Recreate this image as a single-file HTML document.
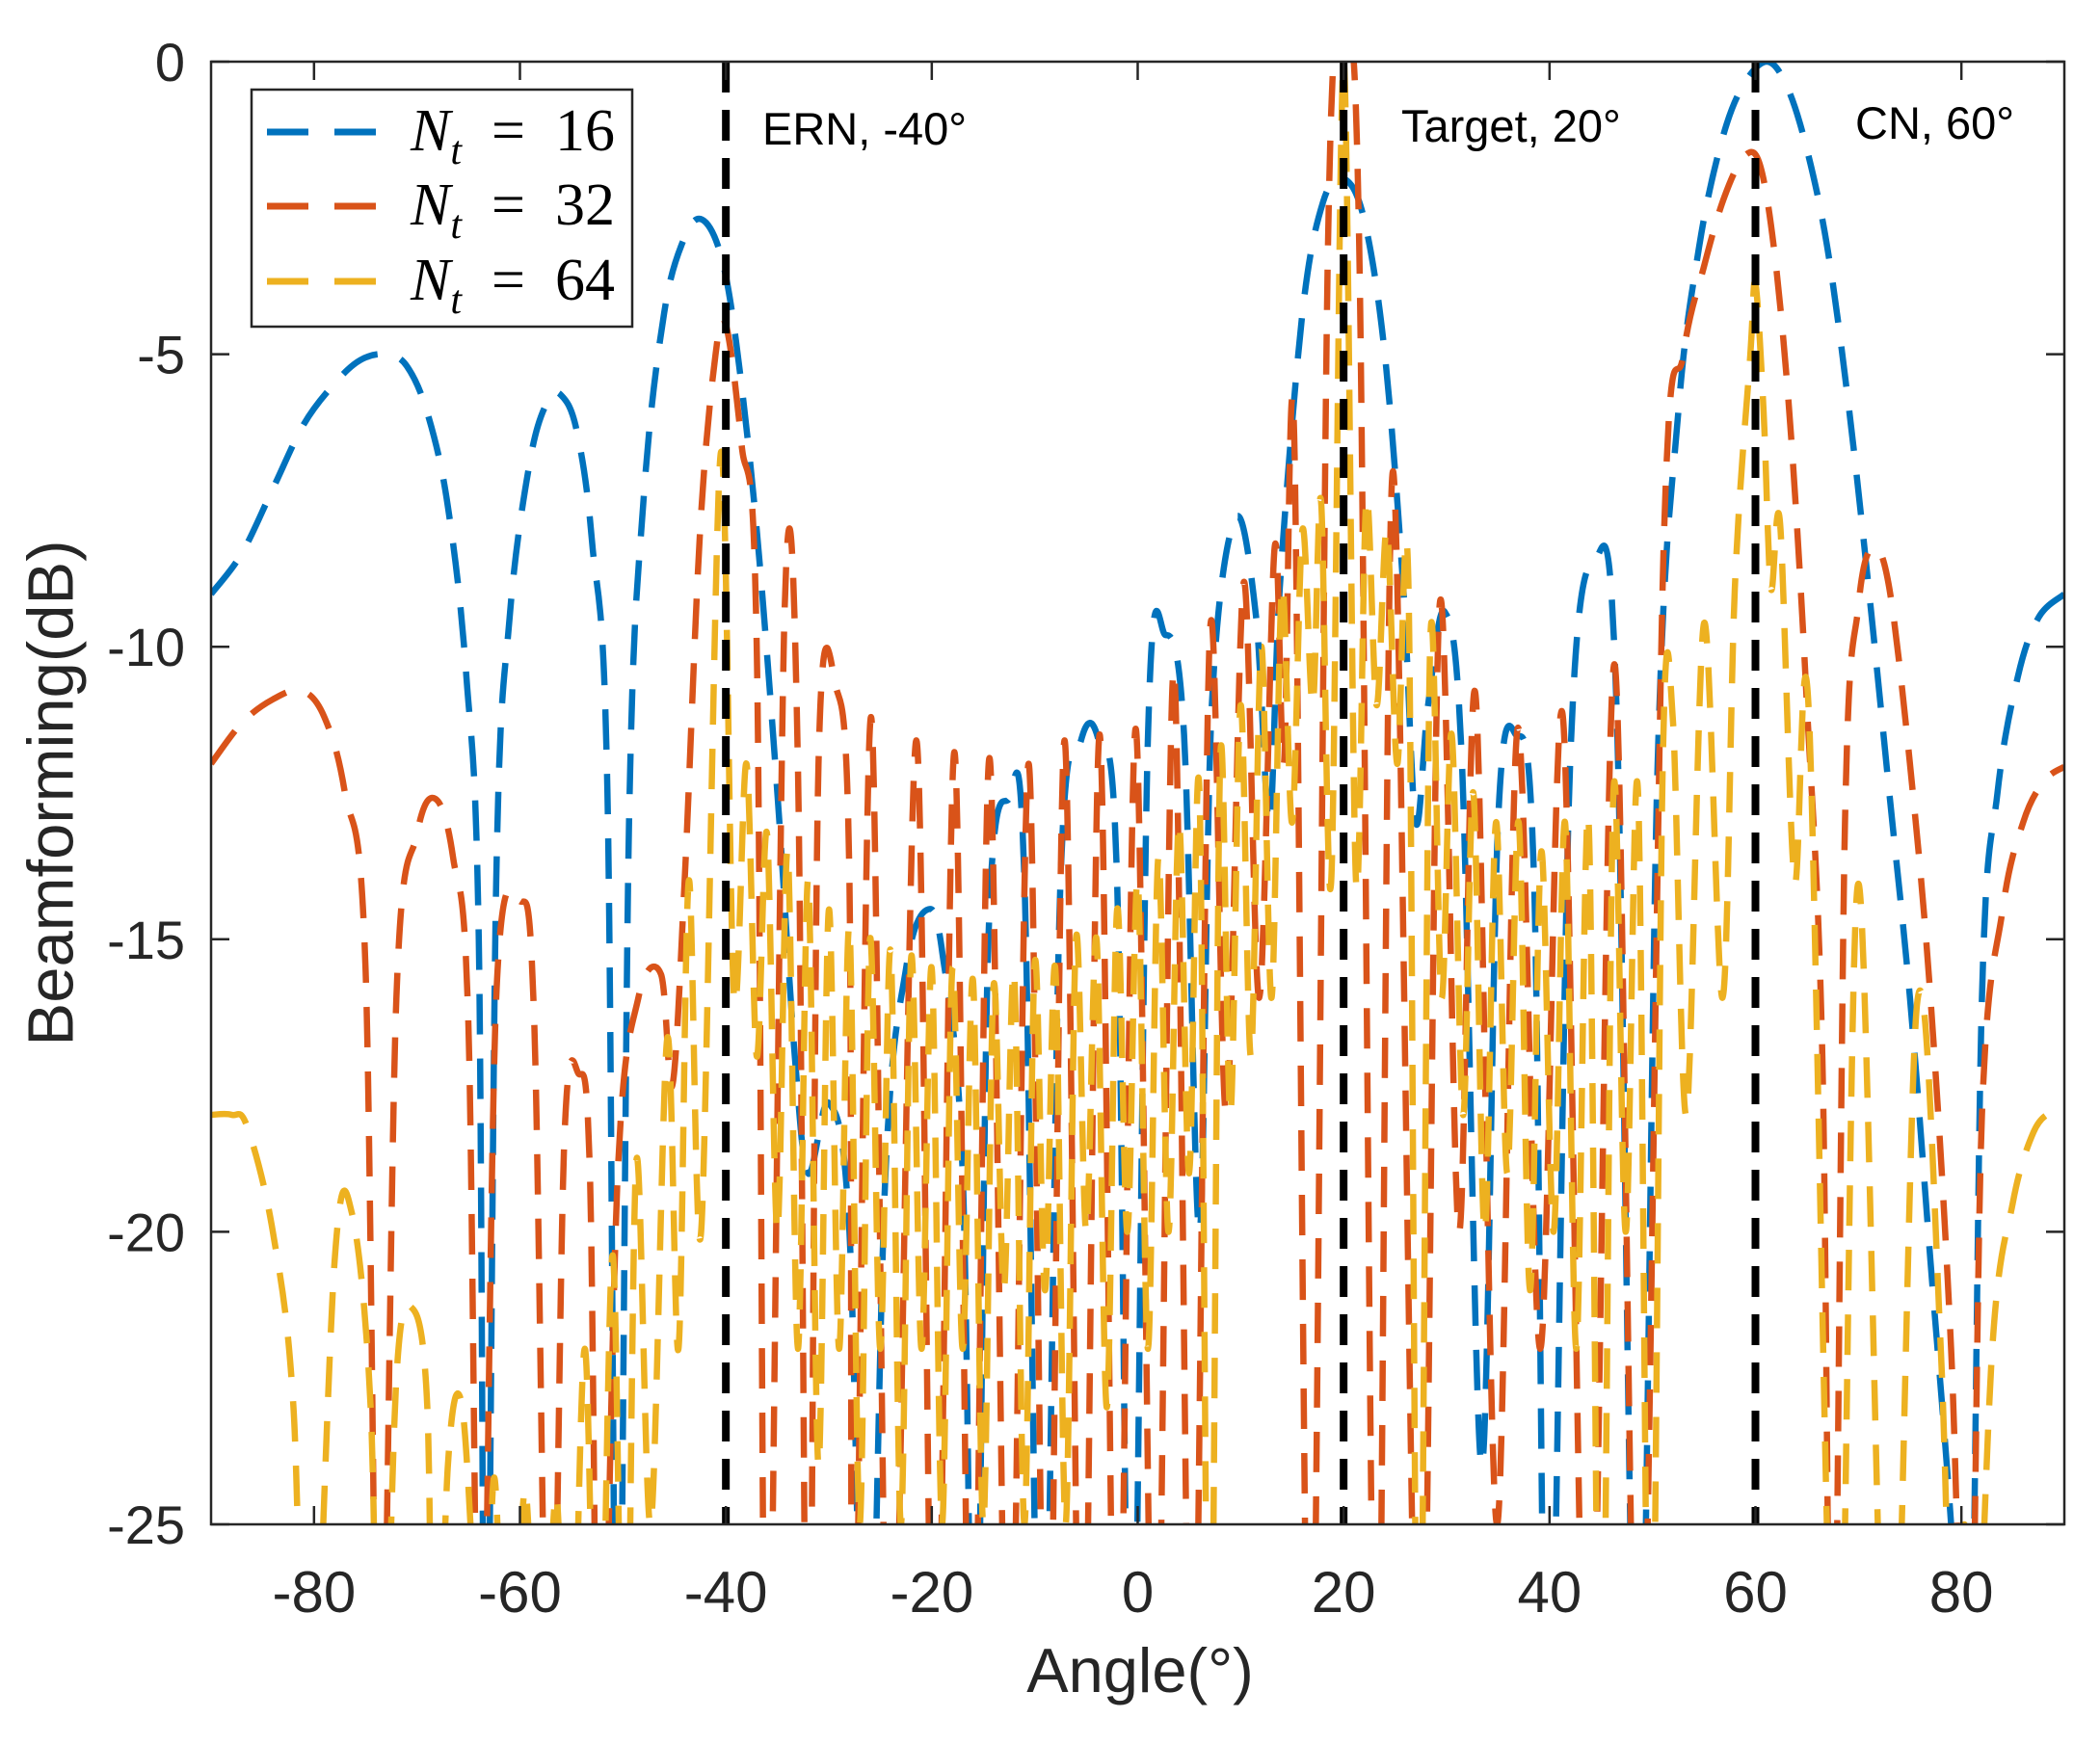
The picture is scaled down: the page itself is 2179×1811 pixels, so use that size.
<!DOCTYPE html>
<html><head><meta charset="utf-8"><style>
html,body{margin:0;padding:0;background:#fff;width:2179px;height:1811px;overflow:hidden;}
svg{display:block;}
</style></head><body>
<svg id="chart" width="2179" height="1811" viewBox="0 0 2179 1811" xmlns="http://www.w3.org/2000/svg">
<defs><clipPath id="plotclip"><rect x="219" y="64" width="1923" height="1518"/></clipPath></defs>
<rect x="0" y="0" width="2179" height="1811" fill="#fff"/>
<g id="series" clip-path="url(#plotclip)"></g>
<g id="markers" clip-path="url(#plotclip)"></g>
<rect x="219" y="64" width="1923" height="1518" fill="none" stroke="#262626" stroke-width="2.5"/>
<g id="ticks"></g>
<g id="labels" font-family="Liberation Sans, sans-serif" fill="#262626"></g>
<text x="58" y="823" transform="rotate(-90 58 823)" text-anchor="middle" dominant-baseline="middle" font-family="Liberation Sans, sans-serif" font-size="67" fill="#262626">Beamforming(dB)</text>
<text x="1183" y="1756" text-anchor="middle" font-family="Liberation Sans, sans-serif" font-size="65" fill="#262626">Angle(°)</text>
<text x="791" y="150" font-family="Liberation Sans, sans-serif" font-size="47" fill="#000">ERN, -40°</text>
<text x="1454" y="147" font-family="Liberation Sans, sans-serif" font-size="47" fill="#000">Target, 20°</text>
<text x="1925" y="144" font-family="Liberation Sans, sans-serif" font-size="47" fill="#000">CN, 60°</text>
<g>
<rect x="261" y="93" width="395" height="246" fill="#fff" stroke="#262626" stroke-width="2.5"/>
<g>
<line x1="277" y1="137" x2="391" y2="137" stroke="#0072BD" stroke-width="7" stroke-dasharray="43 27"/>
<text x="426" y="156" font-family="Liberation Serif, serif" font-size="62" fill="#000"><tspan font-style="italic">N</tspan><tspan font-style="italic" font-size="42" dy="14">t</tspan><tspan dy="-14" xml:space="preserve">  =  16</tspan></text>
</g>
<g>
<line x1="277" y1="214" x2="391" y2="214" stroke="#D95319" stroke-width="7" stroke-dasharray="43 27"/>
<text x="426" y="233" font-family="Liberation Serif, serif" font-size="62" fill="#000"><tspan font-style="italic">N</tspan><tspan font-style="italic" font-size="42" dy="14">t</tspan><tspan dy="-14" xml:space="preserve">  =  32</tspan></text>
</g>
<g>
<line x1="277" y1="292" x2="391" y2="292" stroke="#EDB120" stroke-width="7" stroke-dasharray="43 27"/>
<text x="426" y="311" font-family="Liberation Serif, serif" font-size="62" fill="#000"><tspan font-style="italic">N</tspan><tspan font-style="italic" font-size="42" dy="14">t</tspan><tspan dy="-14" xml:space="preserve">  =  64</tspan></text>
</g>
</g>
</svg>
<script>
const xTicks = [-80,-60,-40,-20,0,20,40,60,80];
const yTicks = [0,-5,-10,-15,-20,-25];
const markerAngles = [-40,20,60];
const blueAngles = [-90,-87,-84,-81,-78,-75.5,-73,-71,-69,-67,-65.2,-64,-63.3,-62.3,-61,-59,-57.3,-56,-54.5,-53,-51.5,-50.5,-49.4,-48,-46,-44,-42.3,-40.5,-39,-37,-35,-33.3,-32,-30,-28,-26.3,-24.5,-22.5,-20.5,-19,-17,-15.8,-14.5,-12.5,-11,-9.3,-7.5,-5.5,-3.8,-2,-0.6,1,2.7,4.5,6,7.2,9.5,11.5,12.8,13.8,16,18,20,22,24,25.8,27,28.2,29.8,31.5,33.4,35,36.7,38.5,39.9,42,44.5,46.5,48.6,50.5,52.5,54.5,56.5,58.5,61,63,65,67,69,71,73,75,77,79,80.7,82,83.5,85.5,87.5,90];
const blueValues = [-9.1,-8.4,-7.3,-6.2,-5.5,-5.1,-5.0,-5.2,-6,-7.6,-10.5,-15,-30,-14,-9.5,-6.8,-5.8,-5.7,-6.3,-8.2,-12.5,-30,-13,-7.5,-4.3,-3.0,-2.7,-3.3,-4.8,-8,-12.5,-17,-19,-17.8,-20,-30,-19,-15.5,-14.5,-15.2,-19,-30,-15,-12.6,-14,-30,-14,-11.6,-11.6,-14,-30,-11.5,-9.8,-11.5,-20,-11,-7.8,-9.5,-13,-9,-4.3,-2.4,-2.0,-2.7,-5,-9,-13,-11,-9.4,-12,-24,-13,-11.5,-14,-30,-12,-8.5,-11,-30,-12,-6,-3.2,-1.5,-0.5,0,-0.4,-1.5,-3.2,-5.8,-9,-12.5,-16,-20.5,-25,-30,-16,-12.5,-10.5,-9.5,-9.1];
const redAngles = [-90,-87,-84,-81.2,-79,-77,-75,-73.6,-72,-70,-68.2,-66.5,-65,-63.8,-62.3,-60,-58.6,-57.1,-55.7,-54.3,-53.2,-52.2,-50.5,-48.5,-46.3,-45.2,-44,-42.5,-41,-40,-38.5,-37,-36,-34.3,-33,-32,-31,-29.3,-28,-27.6,-25.9,-24,-21.5,-19.7,-17.8,-16.1,-14.4,-12.5,-10.6,-8.8,-7.1,-5.4,-3.7,-2,-0.2,1.7,3.5,5.3,7,8.6,10.3,11.8,13.3,14.2,15.2,16.8,18.5,20,21.5,23.2,24.8,27.4,29.3,31.2,32.8,34.9,36.9,39.1,41.3,43.8,46.3,48.7,51.1,53,55,57,59,60.5,62,63.5,65,66.5,67.5,68.7,70,71.4,73,75,77,79,80.7,82,84,86,88,90];
const redValues = [-12,-11.3,-10.9,-10.75,-11.2,-12.5,-15.5,-30,-16,-13.2,-12.6,-13.6,-16.5,-30,-16,-14.35,-16.5,-30,-18.5,-17.3,-19,-30,-19,-16,-15.6,-17.5,-14,-8,-5,-4.5,-6.5,-10,-30,-9.4,-12,-30,-12,-10.7,-14,-30,-11.2,-30,-11.6,-30,-11.8,-30,-11.9,-30,-12.0,-30,-11.6,-30,-11.5,-30,-11.4,-30,-10.4,-30,-9.8,-18,-8.9,-16,-8.3,-12,-6.4,-30,-3,0,-3,-30,-7,-30,-9.35,-20,-10.8,-25,-11.4,-22,-11.2,-30,-10.3,-30,-8.2,-5,-3.5,-2.3,-1.6,-1.8,-3.5,-6.5,-11,-17,-30,-13,-9.3,-8.3,-9,-12,-16,-22,-30,-18,-14.5,-13,-12.3,-12.05];
const yellowAngles = [-90,-88,-86.5,-84,-82,-80.5,-78,-76.3,-74.5,-73.5,-72,-70.5,-69,-68.3,-67,-65.7,-64.5,-63.5,-62.5,-61,-59.5,-58,-56.5,-55.2,-53.7,-52.4,-51,-49.8,-48.7,-47.3,-45.7,-44.6,-43.6,-42.4,-40.5,-39.2,-38,-37,-36,-35,-34,-33,-32,-31,-30,-29,-28,-27,-26,-25,-24,-23,-22,-21,-20,-19,-18,-17,-16,-15,-14,-13,-12,-11,-10,-9,-8,-7,-6,-5,-4,-3,-2,-1,0,1,2,3,4,5,6,7,8,9,10,11,12,13,14,15,16,17,17.8,18.8,20,21.2,22.2,23.2,24.2,25.2,26.3,27.3,28.4,29.5,30.5,31.6,32.6,33.7,34.8,35.9,37,38.1,39.2,40.4,41.5,42.6,43.8,45,46.2,47.4,48.6,49.8,51,52,53.3,55,56.8,58,59.5,60,60.8,61.5,62.4,63.8,65.2,67.9,70,73,75.7,78,79.4,80.3,81,83,85,87,88.8,90];
const yellowValues = [-18,-18,-18.2,-20,-23,-30,-20.5,-19.7,-23,-30,-22.5,-21.3,-23,-30,-24,-22.9,-26,-30,-24.2,-30,-24.4,-30,-24.5,-30,-22,-30,-20.4,-30,-18.8,-25,-16.7,-22,-14,-20,-6.7,-16,-12,-17,-13.2,-20,-13.5,-22,-14,-24,-14.5,-22,-14.8,-25,-15,-22,-15.2,-25,-15.3,-22,-15.5,-25,-15.5,-22,-15.7,-25,-15.8,-21,-15.6,-25,-15.4,-21,-15.5,-25,-15,-20,-15,-23,-14.5,-20,-14,-22,-13.6,-20,-13,-19,-12.5,-30,-12,-18,-11,-17,-10,-16,-9,-13,-8,-11,-7.5,-14,0,-14,-7.5,-11,-8,-12,-9,-30,-10,-16,-11.5,-18,-12.5,-20,-13,-19,-13,-21,-13.5,-20,-13,-22,-13,-30,-12.5,-20,-12.5,-30,-12,-11.3,-18,-9.6,-16,-9,-5,-3.8,-6,-9,-7.9,-14,-11.2,-30,-14.05,-30,-16.1,-22,-30,-25,-30,-22,-19.5,-18.3,-17.95,-18];

const L=219,R=2142,T=64,B=1582,XMIN=-90,XMAX=90,YMIN=-25,YMAX=0;
function xs(d){return L+(d-XMIN)/(XMAX-XMIN)*(R-L);}
function ys(v){return T+(YMAX-v)/(YMAX-YMIN)*(B-T);}
const NS='http://www.w3.org/2000/svg';
function pathFrom(ax,vals){
  const p=ax.map((a,i)=>[xs(a),ys(vals[i])]);
  let d='M'+p[0][0].toFixed(1)+','+p[0][1].toFixed(1);
  for(let i=0;i<p.length-1;i++){
    const p0=p[Math.max(0,i-1)],p1=p[i],p2=p[i+1],p3=p[Math.min(p.length-1,i+2)];
    const c1x=p1[0]+(p2[0]-p0[0])/6,c1y=p1[1]+(p2[1]-p0[1])/6;
    const c2x=p2[0]-(p3[0]-p1[0])/6,c2y=p2[1]-(p3[1]-p1[1])/6;
    d+='C'+c1x.toFixed(1)+','+c1y.toFixed(1)+' '+c2x.toFixed(1)+','+c2y.toFixed(1)+' '+p2[0].toFixed(1)+','+p2[1].toFixed(1);
  }
  return d;
}
const sg=document.getElementById('series');
function addSeries(ax,vals,color,name){
  const el=document.createElementNS(NS,'path');
  el.setAttribute('d',pathFrom(ax,vals));
  el.setAttribute('fill','none');
  el.setAttribute('stroke',color);
  el.setAttribute('stroke-width','6.5');
  el.setAttribute('stroke-dasharray','42 25');
  
  
  sg.appendChild(el);
}
addSeries(blueAngles,blueValues,'#0072BD','series-nt-16');
addSeries(redAngles,redValues,'#D95319','series-nt-32');
addSeries(yellowAngles,yellowValues,'#EDB120','series-nt-64');

const mg=document.getElementById('markers');
markerAngles.forEach(a=>{
  const el=document.createElementNS(NS,'line');
  el.setAttribute('x1',xs(a));el.setAttribute('x2',xs(a));
  el.setAttribute('y1',T);el.setAttribute('y2',B);
  el.setAttribute('stroke','#000');el.setAttribute('stroke-width','8');
  el.setAttribute('stroke-dasharray','32 18');
  
  
  mg.appendChild(el);
});
const tg=document.getElementById('ticks'),lg=document.getElementById('labels');
function tl(x1,y1,x2,y2){
  const el=document.createElementNS(NS,'line');
  el.setAttribute('x1',x1);el.setAttribute('y1',y1);el.setAttribute('x2',x2);el.setAttribute('y2',y2);
  el.setAttribute('stroke','#262626');el.setAttribute('stroke-width','2.5');
  
  
  tg.appendChild(el);
}
xTicks.forEach(t=>{
  const x=xs(t);tl(x,B,x,B-19);tl(x,T,x,T+19);
  const tx=document.createElementNS(NS,'text');
  tx.setAttribute('x',x);tx.setAttribute('y',1673);
  tx.setAttribute('text-anchor','middle');tx.setAttribute('font-size','60');
  
  
  tx.textContent=String(t);lg.appendChild(tx);
});
yTicks.forEach(t=>{
  const y=ys(t);tl(L,y,L+19,y);tl(R,y,R-19,y);
  const tx=document.createElementNS(NS,'text');
  tx.setAttribute('x',192);tx.setAttribute('y',y+20);
  tx.setAttribute('text-anchor','end');tx.setAttribute('font-size','56');
  
  
  tx.textContent=String(t);lg.appendChild(tx);
});
</script>
</body></html>
